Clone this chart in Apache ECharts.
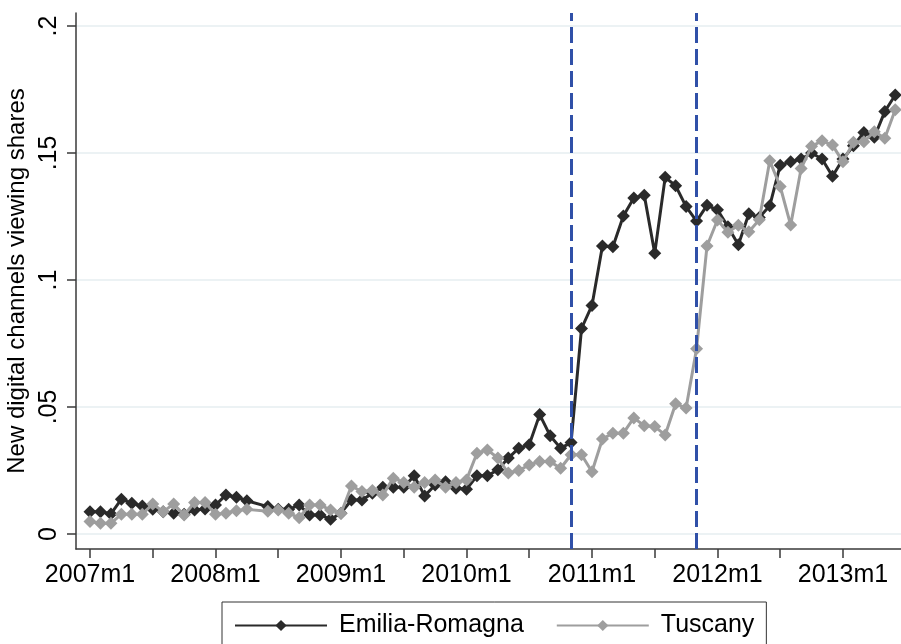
<!DOCTYPE html>
<html>
<head>
<meta charset="utf-8">
<title>New digital channels viewing shares</title>
<script src="https://cdn.jsdelivr.net/npm/echarts@6/dist/echarts.min.js"></script>
<style>
  html, body { margin: 0; padding: 0; background: #fff; }
  #main { width: 901px; height: 644px; }
</style>
</head>
<body>
<div id="main"></div>
<script>
// month labels 2007m1 .. 2013m6
const months = [];
for (let y = 2007; y <= 2013; y++) {
  for (let m = 1; m <= 12; m++) {
    if (y === 2013 && m > 6) break;
    months.push(y + 'm' + m);
  }
}

// 2008m5 is missing for both regions
const emilia = [
  0.0088, 0.0088, 0.0079, 0.0137, 0.0121, 0.0110, 0.0097, 0.0088, 0.0082, 0.0078, 0.0095, 0.0098,
  0.0114, 0.0154, 0.0145, 0.0131, null,   0.0108, 0.0097, 0.0097, 0.0114, 0.0075, 0.0075, 0.0058,
  0.0082, 0.0134, 0.0134, 0.0160, 0.0184, 0.0184, 0.0184, 0.0229, 0.0150, 0.0193, 0.0206, 0.0180,
  0.0176, 0.0229, 0.0229, 0.0253, 0.0299, 0.0338, 0.0351, 0.0470, 0.0387, 0.0338, 0.0360, 0.0809,
  0.0900, 0.1134, 0.1131, 0.1252, 0.1323, 0.1334, 0.1105, 0.1404, 0.1371, 0.1289, 0.1232, 0.1294,
  0.1276, 0.1210, 0.1139, 0.1261, 0.1246, 0.1292, 0.1452, 0.1465, 0.1476, 0.1500, 0.1476, 0.1408,
  0.1476, 0.1528, 0.1581, 0.1562, 0.1663, 0.1728
];
const tuscany = [
  0.0049, 0.0042, 0.0042, 0.0078, 0.0078, 0.0078, 0.0118, 0.0088, 0.0118, 0.0075, 0.0124, 0.0124,
  0.0078, 0.0082, 0.0092, 0.0097, null,   0.0090, 0.0095, 0.0082, 0.0064, 0.0114, 0.0114, 0.0095,
  0.0082, 0.0189, 0.0167, 0.0171, 0.0154, 0.0220, 0.0203, 0.0184, 0.0203, 0.0213, 0.0184, 0.0203,
  0.0213, 0.0318, 0.0331, 0.0299, 0.0240, 0.0250, 0.0272, 0.0285, 0.0285, 0.0259, 0.0312, 0.0312,
  0.0245, 0.0374, 0.0397, 0.0397, 0.0457, 0.0426, 0.0423, 0.0390, 0.0513, 0.0496, 0.0729, 0.1134,
  0.1236, 0.1188, 0.1215, 0.1190, 0.1237, 0.1469, 0.1368, 0.1216, 0.1439, 0.1526, 0.1548, 0.1531,
  0.1465, 0.1542, 0.1544, 0.1584, 0.1558, 0.1670
];

const xTicks = [0, 6, 12, 18, 24, 30, 36, 42, 48, 54, 60, 66, 72];
const xLabels = [0, 12, 24, 36, 48, 60, 72];
const yTicks = [0, 0.05, 0.1, 0.15, 0.2];
const eventMonths = ['2010m11', '2011m11'];

const font = 'Liberation Sans, Arial, sans-serif';
const axisColor = '#3a3a3a';

const chart = echarts.init(document.getElementById('main'));

chart.setOption({
  animation: false,
  backgroundColor: '#fff',
  grid: {
    left: 76,
    right: 0,
    top: 13,
    bottom: 95,
    containLabel: false,
    outerBoundsMode: 'none'
  },
  legend: {
    left: 222,
    top: 602,
    itemWidth: 92,
    itemHeight: 14,
    itemGap: 32,
    padding: [11, 12, 11, 12],
    borderColor: '#333',
    borderWidth: 1,
    textStyle: {
      fontFamily: font,
      fontSize: 25,
      color: '#000',
      padding: [0, 0, 0, 7]
    },
    data: ['Emilia-Romagna', 'Tuscany']
  },
  xAxis: {
    type: 'value',
    min: -1.34,
    max: 77.55,
    axisLine: { show: true, onZero: false, lineStyle: { color: axisColor, width: 1.5 } },
    axisTick: { show: true, length: 9, customValues: xTicks, lineStyle: { color: axisColor, width: 1.5 } },
    axisLabel: {
      customValues: xLabels,
      margin: 14,
      fontFamily: font,
      fontSize: 25,
      color: '#000',
      formatter: function (v) { return months[Math.round(v)]; }
    },
    splitLine: { show: false }
  },
  yAxis: {
    type: 'value',
    min: -0.0059,
    max: 0.2051,
    name: 'New digital channels viewing shares',
    nameLocation: 'middle',
    nameRotate: 90,
    nameGap: 44,
    nameTextStyle: { fontFamily: font, fontSize: 24, color: '#000' },
    axisLine: { show: true, onZero: false, lineStyle: { color: axisColor, width: 1.5 } },
    axisTick: { show: true, length: 9, customValues: yTicks, lineStyle: { color: axisColor, width: 1.5 } },
    axisLabel: {
      customValues: yTicks,
      rotate: 90,
      margin: 14,
      fontFamily: font,
      fontSize: 25,
      color: '#000',
      formatter: function (v) {
        return v === 0 ? '0' : String(+v.toFixed(2)).replace(/^0/, '');
      }
    },
    splitLine: { show: true, lineStyle: { color: '#e6eef1', width: 1.5 } }
  },
  series: [
    {
      name: 'Emilia-Romagna',
      type: 'line',
      data: emilia.map((v, i) => [i, v]),
      connectNulls: true,
      symbol: 'diamond',
      symbolSize: 13,
      itemStyle: { color: '#2a2a2a' },
      lineStyle: { color: '#2a2a2a', width: 3 },
      markLine: {
        silent: true,
        symbol: 'none',
        label: { show: false },
        lineStyle: { color: '#3050a8', width: 3, type: [16, 6] },
        data: eventMonths.map(m => ({ xAxis: months.indexOf(m) }))
      },
      z: 3
    },
    {
      name: 'Tuscany',
      type: 'line',
      data: tuscany.map((v, i) => [i, v]),
      connectNulls: true,
      symbol: 'diamond',
      symbolSize: 13,
      itemStyle: { color: '#9e9e9e' },
      lineStyle: { color: '#9e9e9e', width: 3 },
      z: 4
    }
  ]
});
</script>
</body>
</html>
